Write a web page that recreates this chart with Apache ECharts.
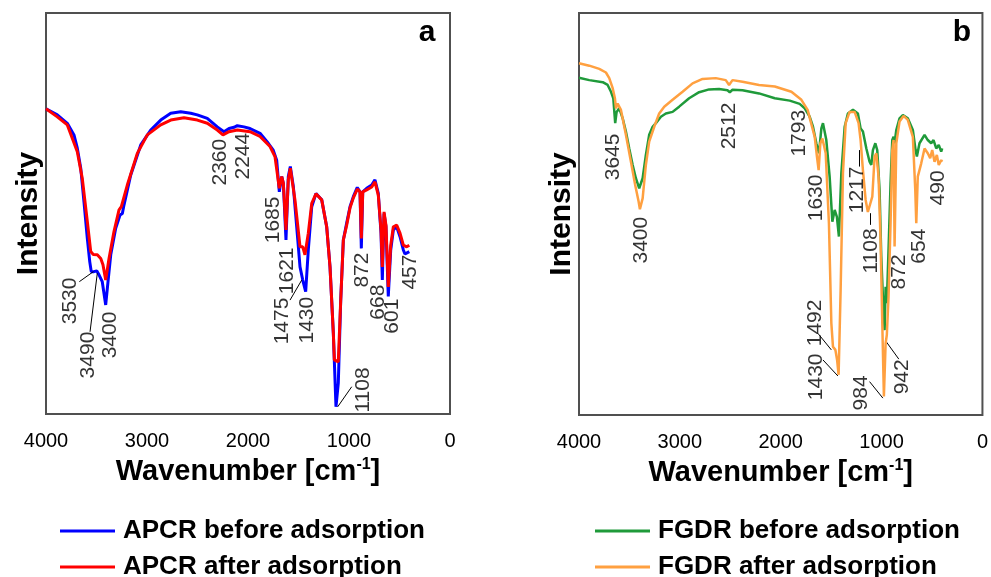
<!DOCTYPE html>
<html><head><meta charset="utf-8">
<script src="https://cdn.jsdelivr.net/npm/echarts@6/dist/echarts.min.js"></script>
<style>html,body{margin:0;padding:0;background:#fff}#c{width:991px;height:577px}</style>
</head><body><div id="c"></div>
<script>
// ---------- data ----------
const xTicks = [4000, 3000, 2000, 1000, 0];
const seriesNames = ['APCR before adsorption', 'APCR after adsorption', 'FGDR before adsorption', 'FGDR after adsorption'];

const apcrBeforeWn = [4000,3888,3789,3723,3690,3656,3624,3591,3567,3552,3525,3498,3475,3443,3409,3386,3359,3310,3267,3244,3228,3161,3062,2963,2864,2765,2666,2567,2502,2403,2304,2238,2188,2139,2106,2040,1980,1881,1799,1750,1716,1690,1666,1650,1624,1601,1581,1551,1518,1485,1458,1429,1403,1369,1327,1270,1221,1188,1155,1129,1106,1082,1056,1023,990,957,918,891,878,864,825,775,743,710,683,670,653,634,611,587,561,528,495,462,446,403];
const apcrBeforeI = [76.1,74.6,72.5,69.6,66.3,61.3,52.9,43.8,38.0,35.5,35.5,35.7,34.7,33.0,27.2,33.0,39.7,46.3,49.6,50.0,52.1,59.6,67.1,70.8,73.3,75.0,75.4,75.0,74.6,73.7,71.6,70.4,71.2,71.5,71.9,71.6,71.2,70.0,67.5,65.8,63.3,55.4,59.2,57.5,43.4,59.2,61.7,56.7,46.7,36.7,33.4,30.5,40.9,51.7,55.0,53.4,46.7,36.7,20.1,1.8,7.7,28.4,43.4,47.6,51.7,54.2,56.5,55.4,41.3,55.4,56.3,57.1,58.4,55.0,45.1,33.4,50.0,46.7,29.3,40.9,45.9,46.7,44.2,40.9,39.9,40.5];

const apcrAfterWn = [4000,3888,3789,3690,3641,3591,3557,3532,3492,3458,3436,3409,3376,3327,3277,3254,3195,3096,2997,2864,2765,2634,2502,2403,2304,2248,2188,2106,1980,1881,1782,1733,1690,1666,1650,1624,1601,1581,1535,1485,1458,1436,1403,1369,1327,1270,1221,1188,1155,1145,1106,1082,1056,1023,990,957,918,891,878,864,825,775,743,710,683,670,653,634,611,587,561,528,495,462,429,403];
const apcrAfterI = [76.1,74.1,72.1,65.4,58.8,48.0,40.5,39.8,39.7,38.8,37.2,33.4,38.8,45.5,50.9,51.7,57.1,65.0,69.6,72.1,73.3,73.9,73.3,72.5,70.8,69.6,70.4,70.8,70.4,69.2,66.7,64.2,56.3,59.2,57.5,45.9,58.4,61.3,53.4,41.7,41.7,39.7,45.1,52.5,54.9,53.4,46.7,36.7,20.1,13.5,13.0,28.4,43.4,47.1,51.4,53.9,56.1,55.4,43.8,55.4,55.9,56.6,57.9,54.6,45.9,36.7,50.4,47.1,31.7,42.1,46.7,47.1,45.1,42.1,41.7,42.1];

const fgdrBeforeWn = [4000,3898,3765,3716,3683,3660,3641,3627,3601,3567,3535,3502,3468,3436,3403,3369,3337,3304,3270,3238,3188,3139,3072,3007,2908,2809,2710,2611,2528,2505,2478,2379,2215,2059,1911,1812,1762,1713,1680,1647,1621,1597,1581,1548,1515,1488,1465,1443,1423,1399,1366,1334,1284,1235,1208,1185,1151,1119,1102,1086,1062,1043,1020,1003,987,970,960,948,928,911,894,881,871,854,822,789,740,690,663,650,624,574,542,508,485,458,433,409,399];
const fgdrBeforeI = [83.9,83.3,82.8,82.1,80.4,78.8,72.6,75.4,76.3,73.8,70.5,66.3,62.2,58.9,56.4,58.9,64.7,69.7,71.7,72.6,74.2,75.0,75.4,76.7,78.8,80.3,81.0,81.1,80.8,80.3,80.9,80.8,80.0,78.8,78.2,77.4,76.3,74.2,71.7,67.6,65.1,71.3,72.6,68.4,59.3,48.1,51.0,49.3,44.4,60.1,71.7,75.0,75.9,75.0,71.3,70.5,66.3,63.0,62.2,65.9,67.6,65.9,56.0,39.4,29.4,21.1,31.9,27.8,43.5,57.6,68.4,69.2,67.6,70.9,73.8,74.6,73.8,70.9,65.9,64.3,67.6,69.7,68.4,67.6,68.4,66.3,67.2,65.5,66.3];

const fgdrAfterWn = [4000,3898,3799,3733,3700,3666,3644,3634,3617,3584,3535,3485,3443,3409,3396,3369,3337,3304,3254,3205,3155,3072,2973,2874,2775,2644,2545,2512,2478,2379,2215,2059,1894,1795,1733,1663,1641,1624,1607,1587,1554,1522,1498,1482,1458,1441,1426,1406,1383,1356,1317,1267,1228,1208,1185,1158,1136,1119,1092,1069,1052,1030,1010,993,977,960,948,931,911,894,881,871,854,822,782,740,690,666,656,641,607,574,542,518,498,475,452,433,409,399];
const fgdrAfterI = [87.5,86.9,86.1,85.2,83.8,81.3,78.8,76.3,77.5,75.9,69.7,63.0,57.2,53.1,51.2,53.9,62.2,68.0,71.7,75.0,76.7,78.4,80.4,82.5,83.6,83.8,83.3,82.1,83.3,82.9,82.1,81.7,80.4,78.4,75.9,69.2,64.3,60.9,67.6,68.8,65.1,47.7,22.8,17.0,16.2,13.7,10.0,31.1,60.1,72.6,75.4,75.4,72.6,68.4,60.9,53.5,50.5,50.1,54.3,64.3,65.1,59.3,43.5,22.8,4.6,17.8,19.9,29.4,47.7,65.9,68.4,41.9,67.6,73.0,74.4,73.4,69.2,56.0,47.7,59.3,62.6,66.3,65.1,63.9,65.9,63.0,64.7,62.2,63.4,63.0];

// peak annotations (text)
const apcrPeakText = ['3530','3490','3400','2360','2244','1685','1621','1475','1430','1108','872','668','601','457'];
const fgdrPeakText = ['3645','3400','2512','1793','1630','1217','1108','872','654','490','1492','1430','984','942'];

// ---------- layout (annotation placement, axis units) ----------
const apcrLabelPos = [[3762,28.2],[3584,14.7],[3366,19.7],[2277,62.8],[2050,64.3],[1752,48.4],[1614,35.7],[1663,23.2],[1416,23.4],[861,6.0],[871,35.9],[713,27.9],[574,24.4],[396,35.4]];
const apcrLeaders = [[[3670,33.0],[3531,35.5]],[[3564,20.5],[3492,35.1]],[[1584,28.4],[1468,33.4]],[[1112,1.8],[973,6.8]]];
const fgdrLabelPos = [[3663,64.2],[3386,43.5],[2515,71.9],[1812,70.1],[1653,54.0],[1238,56.0],[1099,40.8],[822,35.6],[624,42.0],[443,56.5],[1658,22.9],[1647,9.5],[1201,5.5],[792,9.5]];
const fgdrLeaders = [[[1218,65.9],[1218,61.8]],[[1112,50.2],[1112,47.3]],[[1631,20.3],[1498,16.2]],[[1581,13.7],[1433,9.7]],[[1119,8.3],[987,4.2]],[[953,18.2],[829,13.9]]];

const SANS = "'Liberation Sans',Arial,sans-serif";
const colors = ['#0000ff', '#ff0000', '#1f9a3a', '#ffa040'];

function pairs(w, v) { return w.map((x, i) => [x, v[i]]); }

const chart = echarts.init(document.getElementById('c'), null, {renderer: 'canvas'});

function xAxisCfg(gi) {
  return {
    gridIndex: gi, type: 'value', min: 0, max: 4000, interval: 1000, inverse: true,
    axisLine: {show: false}, axisTick: {show: false}, splitLine: {show: false},
    axisLabel: {color: '#000', fontSize: 20, fontFamily: SANS, margin: 17,
      formatter: v => xTicks.includes(v) ? String(v) : ''},
    name: 'Wavenumber [cm{sup|-1}]', nameLocation: 'middle', nameGap: 43,
    nameTextStyle: {color: '#000', fontSize: 29, fontWeight: 'bold', fontFamily: SANS,
      rich: {sup: {fontSize: 16, fontWeight: 'bold', fontFamily: SANS, color: '#000', verticalAlign: 'top', padding: [0, 0, 12, 0]}}}
  };
}
function yAxisCfg(gi) {
  return {
    gridIndex: gi, type: 'value', min: 0, max: 100,
    axisLine: {show: false}, axisTick: {show: false}, splitLine: {show: false}, axisLabel: {show: false},
    name: 'Intensity', nameLocation: 'middle', nameRotate: 90, nameGap: 2,
    nameTextStyle: {color: '#000', fontSize: 30, fontWeight: 'bold', fontFamily: SANS}
  };
}
function lineSeries(i, gi, w, v, width) {
  return {name: seriesNames[i], type: 'line', xAxisIndex: gi, yAxisIndex: gi, data: pairs(w, v),
    showSymbol: false, symbol: 'none', lineStyle: {color: colors[i], width: width}, itemStyle: {color: colors[i]},
    z: 2 + i, animation: false};
}
function annotSeries(gi, texts, pos, leaders) {
  return {type: 'scatter', xAxisIndex: gi, yAxisIndex: gi, symbolSize: 1, z: 10,
    itemStyle: {color: 'rgba(0,0,0,0)'}, silent: true, animation: false,
    data: texts.map((t, i) => [pos[i][0], pos[i][1], t]),
    label: {show: true, position: 'inside', rotate: 90, formatter: p => p.value[2],
      color: '#000', fontSize: 21, fontFamily: SANS},
    markLine: {silent: true, symbol: ['none', 'none'], animation: false, label: {show: false},
      lineStyle: {color: '#000', width: 1, type: 'solid'},
      data: leaders.map(l => [{coord: l[0]}, {coord: l[1]}])}
  };
}
const legendText = {color: '#000', fontSize: 26, fontWeight: 'bold', fontFamily: SANS, lineHeight: 30, padding: [0, 0, 0, 3]};
function legendCfg(i, left, top) {
  return {data: [seriesNames[i]], orient: 'horizontal', left: left, top: top, itemWidth: 55, itemHeight: 3,
    icon: 'rect', textStyle: legendText, selectedMode: false};
}

chart.setOption({
  animation: false,
  backgroundColor: '#fff',
  grid: [
    {left: 46, top: 13, width: 404, height: 401, show: true, borderColor: '#505050', borderWidth: 2},
    {left: 579, top: 13, width: 404, height: 402, show: true, borderColor: '#505050', borderWidth: 2}
  ],
  xAxis: [xAxisCfg(0), xAxisCfg(1)],
  yAxis: [yAxisCfg(0), yAxisCfg(1)],
  legend: [legendCfg(0, 55, 511), legendCfg(1, 55, 547), legendCfg(2, 590, 511), legendCfg(3, 590, 547)],
  graphic: [
    {type: 'text', x: 427, y: 33, style: {text: 'a', fontSize: 30, fontWeight: 'bold', fontFamily: SANS, fill: '#000', align: 'center', verticalAlign: 'middle', textAlign: 'center', textVerticalAlign: 'middle'}},
    {type: 'text', x: 962, y: 33, style: {text: 'b', fontSize: 30, fontWeight: 'bold', fontFamily: SANS, fill: '#000', align: 'center', verticalAlign: 'middle', textAlign: 'center', textVerticalAlign: 'middle'}}
  ],
  series: [
    lineSeries(0, 0, apcrBeforeWn, apcrBeforeI, 3),
    lineSeries(1, 0, apcrAfterWn, apcrAfterI, 3),
    lineSeries(2, 1, fgdrBeforeWn, fgdrBeforeI, 2.5),
    lineSeries(3, 1, fgdrAfterWn, fgdrAfterI, 2.5),
    annotSeries(0, apcrPeakText, apcrLabelPos, apcrLeaders),
    annotSeries(1, fgdrPeakText, fgdrLabelPos, fgdrLeaders)
  ]
});
</script>
</body></html>
